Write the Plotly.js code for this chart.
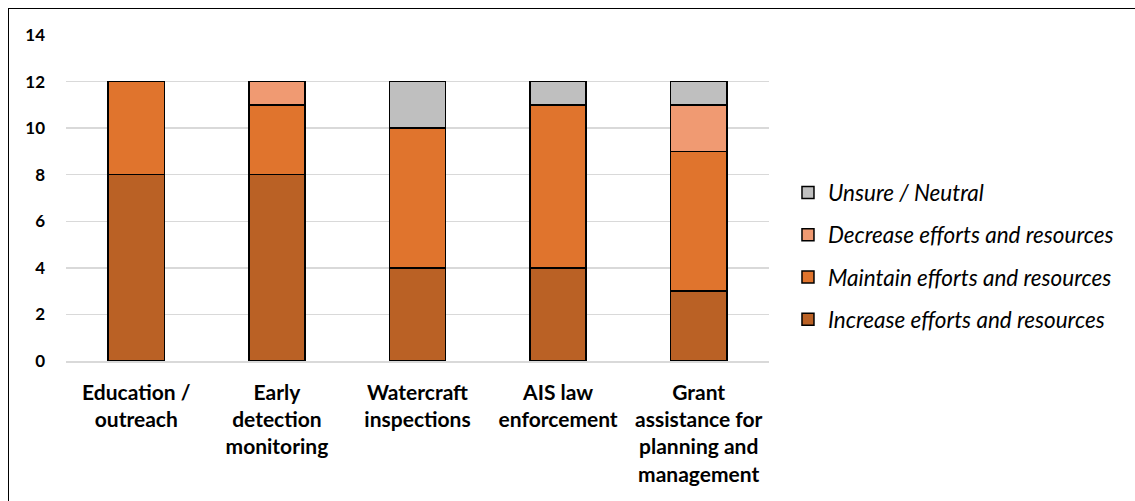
<!DOCTYPE html>
<html>
<head>
<meta charset="utf-8">
<script src="https://cdn.plot.ly/plotly-3.0.1.min.js"></script>
<style>
html,body{margin:0;padding:0;background:#fff;}
#wrap{position:relative;width:1135px;height:501px;overflow:hidden;}
#frame{position:absolute;left:8px;top:8px;width:1140px;height:500px;border-left:1.5px solid #000;border-top:1.5px solid #000;pointer-events:none;}
#chart{position:absolute;left:0;top:0;width:1135px;height:501px;}
</style>
</head>
<body>
<div id="wrap"><div id="chart"></div><div id="frame"></div></div>
<script>
const categories = ["Education /<br>outreach", "Early<br>detection<br>monitoring", "Watercraft<br>inspections", "AIS law<br>enforcement", "Grant<br>assistance for<br>planning and<br>management"];
const increase = [8, 8, 4, 4, 3];
const maintain = [4, 3, 6, 7, 6];
const decrease = [0, 1, 0, 0, 2];
const unsure = [0, 0, 2, 1, 1];
const seriesNames = ["Increase efforts and resources", "Maintain efforts and resources", "Decrease efforts and resources", "Unsure / Neutral"];
const seriesColors = ["#BA6125", "#E0742D", "#F09A72", "#BFBFBF"];
const seriesValues = [increase, maintain, decrease, unsure];

const traces = seriesValues.map((vals, i) => ({
  type: "bar",
  x: categories,
  y: vals,
  name: seriesNames[i],
  legendgroup: "g" + i,
  legendrank: seriesValues.length - i,
  marker: {color: seriesColors[i], line: {color: "#000", width: 1.5}},
  width: 0.4,
  hoverinfo: "skip"
}));

const layout = {
  width: 1135, height: 501,
  margin: {l: 66, r: 366, t: 35, b: 140},
  barmode: "stack",
  paper_bgcolor: "rgba(0,0,0,0)",
  plot_bgcolor: "#fff",
  font: {family: "Lato, 'Liberation Sans', sans-serif", color: "#000"},
  showlegend: true,
  legend: {
    x: 1.027, y: 0.582, xanchor: "left", yanchor: "top",
    traceorder: "grouped",
    tracegroupgap: 10,
    font: {size: 22.5, family: "Lato, sans-serif", style: "italic", color: "#000"},
    itemwidth: 30
  },
  xaxis: {
    type: "category",
    showgrid: false,
    showline: true, linecolor: "#D9D9D9", linewidth: 1.5,
    ticks: "",
    tickfont: {size: 21, weight: "bold", color: "#000"},
    ticklabelstandoff: 12,
    fixedrange: true
  },
  yaxis: {
    range: [0, 14],
    dtick: 2,
    showgrid: true, gridcolor: "#D9D9D9", gridwidth: 1.5,
    zeroline: false,
    showline: false,
    ticks: "",
    tickfont: {size: 17, weight: "bold", color: "#000"},
    ticklabelstandoff: 20,
    fixedrange: true
  }
};

Plotly.newPlot("chart", traces, layout, {staticPlot: true, displayModeBar: false});
</script>
</body>
</html>
